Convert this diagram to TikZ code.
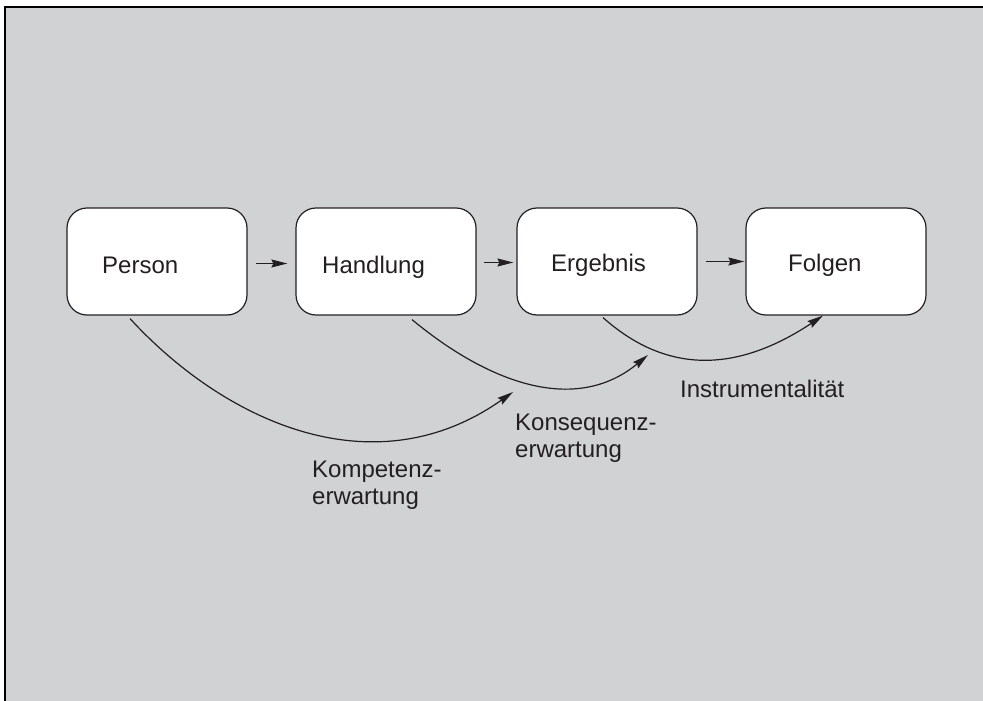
\documentclass[tikz,border=0pt]{standalone}
\usepackage{fontspec}
\setmainfont{Liberation Sans}
\usetikzlibrary{arrows.meta,calc}
\definecolor{panel}{HTML}{D1D2D4}
\definecolor{ink}{HTML}{231F20}
\tikzset{
  stage/.style={draw=ink, line width=1.2pt, fill=white, rounded corners=20pt,
    minimum width=180pt, minimum height=107pt, inner sep=0pt},
  caption/.style={anchor=base west, inner sep=0pt, text=ink, align=left,
    font=\fontsize{24}{27}\selectfont},
  flow/.style={draw=ink, line width=1.2pt,
    -{Stealth[length=16pt,width=8pt,inset=2pt]}},
}
\begin{document}
\begin{tikzpicture}[x=1pt,y=-1pt]
  \useasboundingbox (0,0) rectangle (983,701);
  % paper and panel
  \fill[white] (0,0) rectangle (983,701);
  \fill[panel] (5,8) rectangle (983,701);
  \draw[black, line width=2.5pt] (3.5,7) -- (983,7);
  \draw[black, line width=2pt] (4.5,6) -- (4.5,701);

  % stages
  \node[stage] (p) at (157,261.5) {};
  \node[stage] (h) at (386,261.5) {};
  \node[stage] (e) at (607,261.5) {};
  \node[stage] (f) at (836,261.5) {};

  \node[caption] (pt) at (102,273) {Person};
  \node[caption] (ht) at (322,273) {Handlung};
  \node[caption] (et) at (551,271) {Ergebnis};
  \node[caption] (ft) at (788,271) {Folgen};

  % sequence arrows
  \draw[flow, shorten <=8pt, shorten >=8pt] ([yshift=-2pt]p.east) -- ([yshift=-2pt]h.west);
  \draw[flow, shorten <=7pt, shorten >=3pt] ([yshift=-1pt]h.east) -- ([yshift=-1pt]e.west);
  \draw[flow, shorten <=8pt, shorten >=1pt] (e.east) -- (f.west);

  % expectation arcs
  \coordinate (k1) at (513,392);
  \coordinate (k2) at (648,355);
  \draw[flow] ($(p.south)+(-27,3)$) .. controls (225,422) and (374,490) .. (k1);
  \draw[flow] ($(h.south)+(26,4)$) .. controls (486,381) and (574,416) .. (k2);
  \draw[flow] ($(e.south)+(-4,2)$) .. controls (663,371) and (732,376) .. ($(f.south)+(-13,0)$);

  % arc labels (base anchor sits on the last line)
  \node[caption] (lk) at (312,504) {Kompetenz-\\erwartung};
  \node[caption] (lc) at (515,457) {Konsequenz-\\erwartung};
  \node[caption] (li) at (680,397) {Instrumentalität};
\end{tikzpicture}
\end{document}
